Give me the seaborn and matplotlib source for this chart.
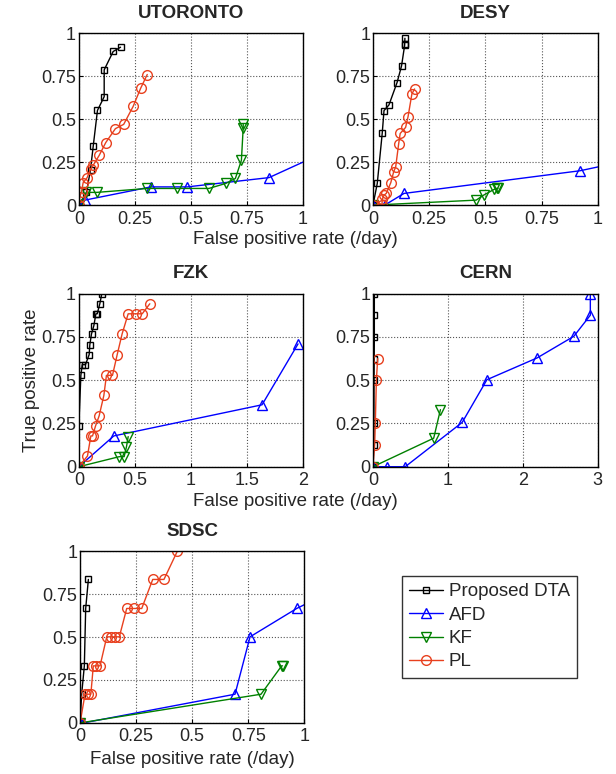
import matplotlib
matplotlib.use("Agg")
import matplotlib.pyplot as plt
import seaborn as sns
import pandas as pd

# values (false positive rate per day, true positive rate)
sites = ["UTORONTO", "DESY", "FZK", "CERN", "SDSC"]
methods = ["Proposed DTA", "AFD", "KF", "PL"]

utoronto_dta_x = [0, 0.034, 0.052, 0.064, 0.083, 0.113, 0.113, 0.153, 0.186]
utoronto_dta_y = [0, 0.074, 0.207, 0.342, 0.551, 0.631, 0.787, 0.894, 0.919]
utoronto_afd_x = [0, 0.027, 0.321, 0.483, 0.848, 1.1]
utoronto_afd_y = [0, 0.029, 0.106, 0.106, 0.16, 0.31]
utoronto_kf_x = [0, 0.034, 0.079, 0.306, 0.438, 0.58, 0.655, 0.698, 0.725, 0.733, 0.733]
utoronto_kf_y = [0, 0.074, 0.074, 0.097, 0.097, 0.097, 0.126, 0.155, 0.261, 0.451, 0.47]
utoronto_pl_x = [0, 0.004, 0.012, 0.019, 0.037, 0.052, 0.064, 0.091, 0.12, 0.163, 0.2, 0.242, 0.276, 0.305]
utoronto_pl_y = [0, 0.048, 0.077, 0.13, 0.16, 0.209, 0.232, 0.29, 0.364, 0.445, 0.47, 0.574, 0.681, 0.76]

desy_dta_x = [0, 0.019, 0.041, 0.049, 0.071, 0.107, 0.127, 0.141, 0.141, 0.142]
desy_dta_y = [0, 0.126, 0.417, 0.55, 0.583, 0.713, 0.81, 0.932, 0.938, 0.971]
desy_afd_x = [0, 0.052, 0.138, 0.921, 1.1]
desy_afd_y = [0, 0, 0.068, 0.2, 0.25]
desy_kf_x = [0, 0.459, 0.492, 0.538, 0.551, 0.556]
desy_kf_y = [0, 0.029, 0.058, 0.091, 0.097, 0.097]
desy_pl_x = [0, 0.04, 0.041, 0.049, 0.059, 0.079, 0.092, 0.101, 0.114, 0.121, 0.145, 0.156, 0.173, 0.185]
desy_pl_y = [0, 0, 0.033, 0.058, 0.068, 0.13, 0.194, 0.223, 0.355, 0.417, 0.452, 0.515, 0.647, 0.676]

fzk_dta_x = [0, 0, 0.018, 0.03, 0.059, 0.092, 0.098, 0.113, 0.134, 0.152, 0.164, 0.187, 0.205]
fzk_dta_y = [0, 0.238, 0.528, 0.59, 0.59, 0.648, 0.706, 0.768, 0.816, 0.884, 0.884, 0.942, 1.0]
fzk_afd_x = [0, 0.312, 1.634, 1.955]
fzk_afd_y = [0, 0.178, 0.358, 0.71]
fzk_kf_x = [0, 0.36, 0.404, 0.425, 0.44]
fzk_kf_y = [0, 0.058, 0.058, 0.116, 0.174]
fzk_pl_x = [0, 0.077, 0.107, 0.122, 0.149, 0.181, 0.223, 0.246, 0.3, 0.342, 0.386, 0.44, 0.508, 0.565, 0.633]
fzk_pl_y = [0, 0.062, 0.178, 0.178, 0.236, 0.294, 0.412, 0.528, 0.528, 0.648, 0.768, 0.884, 0.884, 0.884, 0.942]

cern_dta_x = [0, 0.01, 0.012, 0.014, 0.016, 0.018, 0.018, 0.018]
cern_dta_y = [0, 0.125, 0.25, 0.5, 0.625, 0.75, 0.875, 1.0]
cern_afd_x = [0, 0.19, 0.43, 1.19, 1.52, 2.19, 2.68, 2.9, 2.9]
cern_afd_y = [0, 0, 0, 0.256, 0.503, 0.629, 0.754, 0.876, 1.0]
cern_kf_x = [0, 0.81, 0.9]
cern_kf_y = [0, 0.165, 0.33]
cern_pl_x = [0, 0.022, 0.031, 0.045, 0.063]
cern_pl_y = [0, 0.125, 0.25, 0.5, 0.625]

sdsc_dta_x = [0, 0.007, 0.019, 0.025, 0.037]
sdsc_dta_y = [0, 0.167, 0.332, 0.666, 0.835]
sdsc_afd_x = [0, 0.015, 0.691, 0.758, 0.966, 1.05]
sdsc_afd_y = [0, 0, 0.167, 0.501, 0.666, 0.72]
sdsc_kf_x = [0, 0.807, 0.899, 0.903]
sdsc_kf_y = [0, 0.167, 0.332, 0.332]
sdsc_pl_x = [0, 0.022, 0.034, 0.048, 0.059, 0.071, 0.089, 0.119, 0.137, 0.156, 0.175, 0.208, 0.241, 0.275, 0.324, 0.374, 0.434]
sdsc_pl_y = [0, 0.167, 0.167, 0.167, 0.332, 0.332, 0.332, 0.501, 0.501, 0.501, 0.501, 0.666, 0.666, 0.666, 0.835, 0.835, 1.0]

data = {
    "UTORONTO": [(utoronto_dta_x, utoronto_dta_y), (utoronto_afd_x, utoronto_afd_y),
                 (utoronto_kf_x, utoronto_kf_y), (utoronto_pl_x, utoronto_pl_y)],
    "DESY": [(desy_dta_x, desy_dta_y), (desy_afd_x, desy_afd_y),
             (desy_kf_x, desy_kf_y), (desy_pl_x, desy_pl_y)],
    "FZK": [(fzk_dta_x, fzk_dta_y), (fzk_afd_x, fzk_afd_y),
            (fzk_kf_x, fzk_kf_y), (fzk_pl_x, fzk_pl_y)],
    "CERN": [(cern_dta_x, cern_dta_y), (cern_afd_x, cern_afd_y),
             (cern_kf_x, cern_kf_y), (cern_pl_x, cern_pl_y)],
    "SDSC": [(sdsc_dta_x, sdsc_dta_y), (sdsc_afd_x, sdsc_afd_y),
             (sdsc_kf_x, sdsc_kf_y), (sdsc_pl_x, sdsc_pl_y)],
}

x_ticks = {
    "UTORONTO": ([0, 0.25, 0.5, 0.75, 1], ["0", "0.25", "0.5", "0.75", "1"]),
    "DESY": ([0, 0.25, 0.5, 0.75, 1], ["0", "0.25", "0.5", "0.75", "1"]),
    "FZK": ([0, 0.5, 1, 1.5, 2], ["0", "0.5", "1", "1.5", "2"]),
    "CERN": ([0, 1, 2, 3], ["0", "1", "2", "3"]),
    "SDSC": ([0, 0.25, 0.5, 0.75, 1], ["0", "0.25", "0.5", "0.75", "1"]),
}
y_ticks = [0, 0.25, 0.5, 0.75, 1]
y_tick_labels = ["0", "0.25", "0.5", "0.75", "1"]

colors = ["black", "#0000ff", "#008000", "#e8401e"]
markers = ["s", "^", "v", "o"]
msizes = [5, 7, 7, 7]

sns.set_style("ticks")
plt.rcParams["font.family"] = ["Liberation Sans", "DejaVu Sans"]

fig = plt.figure(figsize=(6.16, 7.74), dpi=100)

# axes rectangles in figure fractions
positions = {
    "UTORONTO": [0.128, 0.735, 0.364, 0.222],
    "DESY": [0.6055, 0.735, 0.365, 0.222],
    "FZK": [0.128, 0.397, 0.364, 0.2235],
    "CERN": [0.6055, 0.397, 0.365, 0.2235],
    "SDSC": [0.13, 0.066, 0.364, 0.222],
}

for site in sites:
    ax = fig.add_axes(positions[site])
    for i, (xs, ys) in enumerate(data[site]):
        df = pd.DataFrame({"x": xs, "y": ys})
        sns.lineplot(data=df, x="x", y="y", ax=ax, sort=False, estimator=None,
                     color=colors[i], marker=markers[i], markersize=msizes[i],
                     markerfacecolor="none", markeredgecolor=colors[i],
                     markeredgewidth=1, linewidth=1, label=methods[i])
    ticks, labels = x_ticks[site]
    ax.set_xlim(ticks[0], ticks[-1])
    ax.set_ylim(0, 1)
    ax.set_xticks(ticks)
    ax.set_xticklabels(labels)
    ax.set_yticks(y_ticks)
    ax.set_yticklabels(y_tick_labels)
    ax.tick_params(direction="in", labelsize=13, length=3, color="black")
    ax.tick_params(axis="x", pad=4)
    ax.tick_params(axis="y", pad=2)
    ax.grid(True, linestyle=":", color="#555555", linewidth=0.8)
    for s in ax.spines.values():
        s.set_color("black")
        s.set_linewidth(1)
    ax.set_title(site, fontsize=13.5, fontweight="bold", pad=11)
    ax.set_xlabel("False positive rate (/day)" if site == "SDSC" else "", fontsize=13.5, labelpad=4)
    ax.set_ylabel("True positive rate" if site == "FZK" else "", fontsize=13.5, labelpad=1)
    handles, leg_labels = ax.get_legend_handles_labels()
    ax.get_legend().remove()

# rows 1 and 2 share one x label centred between the two panels
fig.text(0.48, 1 - 240 / 774, "False positive rate (/day)", fontsize=13.5, ha="center", va="center")
fig.text(0.48, 1 - 502 / 774, "False positive rate (/day)", fontsize=13.5, ha="center", va="center")

fig.legend(handles, leg_labels, loc="upper left", bbox_to_anchor=(0.652, 0.256),
           frameon=True, fancybox=False, edgecolor="black", fontsize=13.5,
           handlelength=1.8, handletextpad=0.3, labelspacing=0.33, borderpad=0.4,
           borderaxespad=0)

fig.savefig("out.png", dpi=100)
